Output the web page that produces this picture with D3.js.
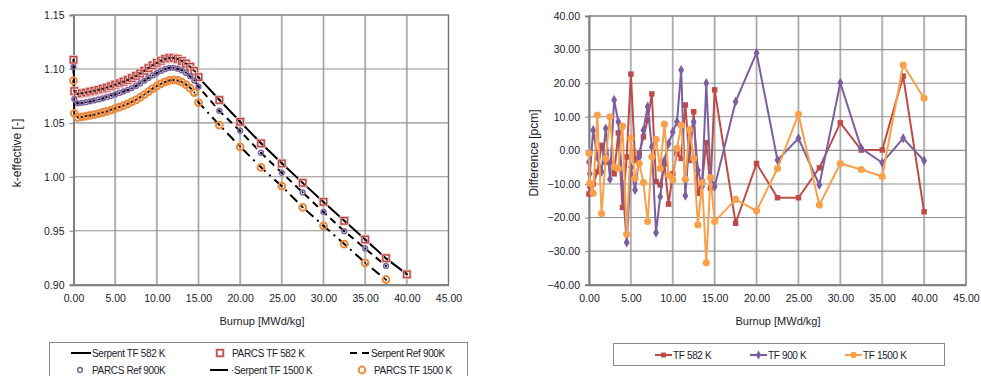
<!DOCTYPE html>
<html>
<head>
<meta charset="utf-8">
<script src="https://cdn.jsdelivr.net/npm/d3@7"></script>
<style>
  body { margin: 0; background: #fff; }
  svg text { font-family: "Liberation Sans", Arial, sans-serif; fill: #1a1a2e; }
  .legend text { font-size: 10px; letter-spacing: -0.35px; }
</style>
</head>
<body>
<svg id="chart" width="981" height="376"></svg>
<script>
// burnup steps [MWd/kg]
const burnup = [0, 0.1, 0.5, 1, 1.5, 2, 2.5, 3, 3.5, 4, 4.5, 5, 5.5, 6, 6.5, 7, 7.5, 8, 8.5, 9, 9.5, 10,
  10.5, 11, 11.5, 12, 12.5, 13, 13.5, 14, 14.5, 15, 17.5, 20, 22.5, 25, 27.5, 30, 32.5, 35, 37.5, 40];

// k-effective, PARCS
const parcs582 = [1.1085, 1.0795, 1.0768, 1.0774, 1.0781, 1.0789, 1.0797, 1.0806, 1.0816, 1.0827, 1.0840,
  1.0855, 1.0868, 1.0882, 1.0898, 1.0916, 1.0936, 1.0958, 1.0982, 1.1008, 1.1033, 1.1056, 1.1076, 1.1092,
  1.1102, 1.1102, 1.1092, 1.1074, 1.1050, 1.1020, 1.0982, 1.0924, 1.0712, 1.0510, 1.0310, 1.0124, 0.9944,
  0.9768, 0.9592, 0.9419, 0.9246, 0.9096];
const parcs900 = [1.1020, 1.0721, 1.0681, 1.0686, 1.0692, 1.0700, 1.0708, 1.0717, 1.0727, 1.0738, 1.0750,
  1.0764, 1.0777, 1.0791, 1.0806, 1.0823, 1.0843, 1.0866, 1.0890, 1.0916, 1.0940, 1.0962, 1.0982, 1.0998,
  1.1009, 1.1010, 1.1002, 1.0986, 1.0963, 1.0933, 1.0893, 1.0835, 1.0612, 1.0427, 1.0223, 1.0037, 0.9855,
  0.9675, 0.9496, 0.9336, 0.9174];
const parcs1500 = [1.0891, 1.0588, 1.0551, 1.0556, 1.0562, 1.0569, 1.0577, 1.0586, 1.0596, 1.0607, 1.0619,
  1.0633, 1.0646, 1.0660, 1.0676, 1.0694, 1.0714, 1.0737, 1.0762, 1.0790, 1.0817, 1.0841, 1.0862, 1.0880,
  1.0893, 1.0898, 1.0893, 1.0878, 1.0855, 1.0823, 1.0780, 1.0688, 1.0480, 1.0278, 1.0087, 0.9914, 0.9716,
  0.9546, 0.9376, 0.9202, 0.9048];

// k-effective, Serpent
const serpent582 = [1.1086, 1.0795, 1.0768, 1.0774, 1.0781, 1.0789, 1.0797, 1.0806, 1.0816, 1.0829, 1.0840,
  1.0853, 1.0868, 1.0882, 1.0898, 1.0915, 1.0934, 1.0958, 1.0983, 1.1008, 1.1035, 1.1056, 1.1076, 1.1092,
  1.1101, 1.1102, 1.1091, 1.1075, 1.1050, 1.1020, 1.0983, 1.0922, 1.0714, 1.0510, 1.0311, 1.0125, 0.9944,
  0.9767, 0.9592, 0.9419, 0.9244, 0.9098];
const serpent900 = [1.1020, 1.0721, 1.0680, 1.0686, 1.0692, 1.0699, 1.0708, 1.0716, 1.0726, 1.0739, 1.0753,
  1.0764, 1.0778, 1.0791, 1.0805, 1.0822, 1.0843, 1.0868, 1.0891, 1.0916, 1.0940, 1.0961, 1.0981, 1.0996,
  1.1010, 1.1010, 1.1001, 1.0987, 1.0964, 1.0931, 1.0894, 1.0836, 1.0611, 1.0424, 1.0223, 1.0037, 0.9856,
  0.9673, 0.9496, 0.9336, 0.9174];
const serpent1500 = [1.0891, 1.0589, 1.0552, 1.0555, 1.0564, 1.0569, 1.0576, 1.0586, 1.0597, 1.0606, 1.0622,
  1.0633, 1.0647, 1.0660, 1.0677, 1.0696, 1.0714, 1.0737, 1.0763, 1.0789, 1.0818, 1.0842, 1.0862, 1.0879,
  1.0894, 1.0897, 1.0893, 1.0880, 1.0856, 1.0826, 1.0781, 1.0690, 1.0481, 1.0280, 1.0088, 0.9913, 0.9718,
  0.9546, 0.9377, 0.9203, 0.9045];

// PARCS - Serpent [pcm]
const diff582 = [-13, -10.5, -10, -6.4, 1.5, -3.5, -3.5, -7, 5.2, -17, -2, 22.7, -3, -1, 4, 9, 16.8, -9.3,
  -10.3, -4, -16, -7, -1, -2.4, 13.5, -3, 11.5, -12.8, -9.3, 2.3, -11.3, 18, -21.7, -3.9, -14.1, -14.1, -5.2,
  8.2, 0.1, 0.1, 22.1, -18.3];
const diff900 = [-3.5, -7, 6, -2, -6.4, 6.5, -8.6, 15, 8.5, -10, -27.4, -5, -11.8, -2, 6, 13, 1, -24.5, -13.8,
  -3, 2, 5.5, 8.5, 23.9, -13.5, 3.6, 8.5, -5.9, -10.8, 20, -7.8, -10.8, 14.5, 29, -2.9, 3.6, -10.3, 20.1, 0.6,
  -3.7, 3.6, -3.1];
const diff1500 = [-0.9, -9.8, -12.8, 10.5, -18.8, -2.4, 10, -4.9, -5.4, 7.2, -25, 3.6, -8.3, -3.9, -9.6,
  -21.2, -1.9, 3.3, -5.4, 7.8, -7.4, -8.8, 0.6, 7.5, -8.6, 6.2, -2.4, -22.2, -9.6, -33.5, -8.1, -21.2, -14.6,
  -18, -5.4, 10.7, -16.3, -3.9, -5.7, -7.8, 25.4, 15.5];

const xTicks = [0, 5, 10, 15, 20, 25, 30, 35, 40, 45];
const kTicks = [0.90, 0.95, 1.00, 1.05, 1.10, 1.15];
const dTicks = [-40, -30, -20, -10, 0, 10, 20, 30, 40];

const red = "#c0504d", purple = "#8064a2";
const svg = d3.select("#chart");

function frame(g, x, y, yTicks, yFmt) {
  const [x0, x1] = x.range(), [y0, y1] = y.range();
  // grid
  g.append("g").selectAll("line").data(xTicks.slice(1)).join("line")
    .attr("x1", d => x(d)).attr("x2", d => x(d)).attr("y1", y0).attr("y2", y1)
    .attr("stroke", "#cdcdcd").attr("stroke-width", 2.2);
  g.append("g").selectAll("line").data(xTicks.slice(1)).join("line")
    .attr("x1", d => x(d)).attr("x2", d => x(d)).attr("y1", y0).attr("y2", y1)
    .attr("stroke", "#999").attr("stroke-width", 0.8);
  g.append("g").selectAll("line").data(yTicks.slice(1)).join("line")
    .attr("x1", x0).attr("x2", x1).attr("y1", d => y(d)).attr("y2", d => y(d))
    .attr("stroke", "#8f8f8f").attr("stroke-width", 1.1);
  g.append("rect").attr("x", x0).attr("y", y1).attr("width", x1 - x0).attr("height", y0 - y1)
    .attr("fill", "none").attr("stroke", "#7a7a7a").attr("stroke-width", 1);

  const xa = g.append("g").attr("transform", `translate(0,${y0})`)
    .call(d3.axisBottom(x).tickValues(xTicks).tickFormat(d3.format(".2f")).tickSize(0).tickPadding(10));
  const ya = g.append("g").attr("transform", `translate(${x0},0)`)
    .call(d3.axisLeft(y).tickValues(yTicks).tickFormat(yFmt).tickSize(4).tickPadding(5));
  [xa, ya].forEach(a => {
    a.select(".domain").attr("stroke", "#808080").attr("stroke-width", 2);
    a.selectAll(".tick line").attr("stroke", "#808080");
    a.selectAll("text").attr("font-size", 10.5).attr("fill", "#1a1a2e")
      .attr("font-family", "'Liberation Sans', Arial, sans-serif");
  });
}

// ---------- left chart: k-effective ----------
const xL = d3.scaleLinear().domain([0, 45]).range([73.5, 448.5]);
const yL = d3.scaleLinear().domain([0.90, 1.15]).range([284.7, 15]);
const gL = svg.append("g");
frame(gL, xL, yL, kTicks, d3.format(".2f"));

const lineL = vals => d3.line().x((d, i) => xL(burnup[i])).y(d => yL(d))(vals);

const serpent = [
  { vals: serpent582, dash: null },
  { vals: serpent900, dash: "7,5" },
  { vals: serpent1500, dash: "10,5,2,5" }
];
serpent.forEach(s => {
  gL.append("path").attr("d", lineL(s.vals)).attr("fill", "none")
    .attr("stroke", "#000").attr("stroke-width", 2).attr("stroke-dasharray", s.dash);
});

// PARCS markers
function parcsMarker(g, kind, cx, cy) {
  if (kind === "sq") {
    g.append("rect").attr("x", cx - 3.5).attr("y", cy - 3.5).attr("width", 7).attr("height", 7)
      .attr("fill", "none").attr("stroke", "#efc9c8").attr("stroke-width", 2.6);
    g.append("rect").attr("x", cx - 3.2).attr("y", cy - 3.2).attr("width", 6.4).attr("height", 6.4)
      .attr("fill", "none").attr("stroke", "#b8403d").attr("stroke-width", 1.3);
  } else if (kind === "dm") {
    g.append("circle").attr("cx", cx).attr("cy", cy).attr("r", 2.4)
      .attr("fill", "none").attr("stroke", purple).attr("stroke-width", 1.5);
  } else {
    g.append("circle").attr("cx", cx).attr("cy", cy).attr("r", 3.4)
      .attr("fill", "none").attr("stroke", "#ee8a3c").attr("stroke-width", 2);
  }
}
[[parcs582, "sq"], [parcs900, "dm"], [parcs1500, "ci"]].forEach(([vals, kind]) => {
  const g = gL.append("g");
  vals.forEach((v, i) => parcsMarker(g, kind, xL(burnup[i]), yL(v)));
});
// serpent points
[serpent582, serpent900, serpent1500].forEach(vals => {
  gL.append("g").selectAll("circle").data(vals).join("circle")
    .attr("cx", (d, i) => xL(burnup[i])).attr("cy", d => yL(d)).attr("r", 1).attr("fill", "#000");
});

gL.append("text").attr("transform", "translate(21,153) rotate(-90)").attr("text-anchor", "middle")
  .attr("font-size", 12).text("k-effective [-]");
gL.append("text").attr("x", 262).attr("y", 325).attr("text-anchor", "middle")
  .attr("font-size", 11).text("Burnup [MWd/kg]");

// ---------- right chart: difference ----------
const xR = d3.scaleLinear().domain([0, 45]).range([589, 966]);
const yR = d3.scaleLinear().domain([-40, 40]).range([284.7, 16]);
const gR = svg.append("g");
frame(gR, xR, yR, dTicks, d3.format(".2f"));

const lineR = vals => d3.line().x((d, i) => xR(burnup[i])).y(d => yR(d))(vals);
const diffSeries = [
  { vals: diff582, color: "#be4b48", sym: d3.symbolSquare, size: 30 },
  { vals: diff900, color: "#7d5fa0", sym: d3.symbolDiamond, size: 30 },
  { vals: diff1500, color: "#f9a04a", sym: d3.symbolCircle, size: 40 }
];
diffSeries.forEach(s => {
  gR.append("path").attr("d", lineR(s.vals)).attr("fill", "none")
    .attr("stroke", s.color).attr("stroke-width", 2);
  gR.append("g").selectAll("path").data(s.vals).join("path")
    .attr("transform", (d, i) => `translate(${xR(burnup[i])},${yR(d)})`)
    .attr("d", d3.symbol(s.sym, s.size)).attr("fill", s.color);
});

gR.append("text").attr("transform", "translate(538,153) rotate(-90)").attr("text-anchor", "middle")
  .attr("font-size", 12).text("Difference [pcm]");
gR.append("text").attr("x", 778).attr("y", 325).attr("text-anchor", "middle")
  .attr("font-size", 11).text("Burnup [MWd/kg]");

// ---------- legends ----------
const legL = svg.append("g").attr("class", "legend");
legL.append("rect").attr("x", 49.5).attr("y", 342.5).attr("width", 418).attr("height", 40)
  .attr("fill", "#fff").attr("stroke", "#8a8a8a");
const row1 = 353, row2 = 370;
[
  { x: 71, y: row1, dash: null, label: "Serpent TF 582 K" },
  { x: 350, y: row1, dash: "7,5", label: "Serpent Ref 900K" },
  { x: 210, y: row2, dash: "18,100", label: " \u00b7Serpent TF 1500 K" }
].forEach(d => {
  legL.append("line").attr("x1", d.x).attr("x2", d.x + 20).attr("y1", d.y).attr("y2", d.y)
    .attr("stroke", "#000").attr("stroke-width", 2).attr("stroke-dasharray", d.dash);
  legL.append("text").attr("x", d.x + 21).attr("y", d.y + 4).text(d.label);
});
[
  { x: 220, y: row1, kind: "sq", label: "PARCS TF 582 K" },
  { x: 80, y: row2, kind: "dm", label: "PARCS Ref 900K" },
  { x: 362, y: row2, kind: "ci", label: "PARCS TF 1500 K" }
].forEach(d => {
  parcsMarker(legL, d.kind, d.x, d.y);
  legL.append("text").attr("x", d.x + 12).attr("y", d.y + 4).text(d.label);
});

const legR = svg.append("g").attr("class", "legend");
legR.append("rect").attr("x", 613.5).attr("y", 343.5).attr("width", 331).attr("height", 22)
  .attr("fill", "#fff").attr("stroke", "#8a8a8a");
const legRItems = ["TF 582 K", "TF 900 K", "TF 1500 K"];
[655, 750, 845].forEach((x, i) => {
  const s = diffSeries[i];
  legR.append("line").attr("x1", x).attr("x2", x + 17).attr("y1", 355).attr("y2", 355)
    .attr("stroke", s.color).attr("stroke-width", 2);
  legR.append("path").attr("transform", `translate(${x + 8.5},355)`)
    .attr("d", d3.symbol(s.sym, s.size * 0.8)).attr("fill", s.color);
  legR.append("text").attr("x", x + 18).attr("y", 359).text(legRItems[i]);
});
</script>
</body>
</html>
